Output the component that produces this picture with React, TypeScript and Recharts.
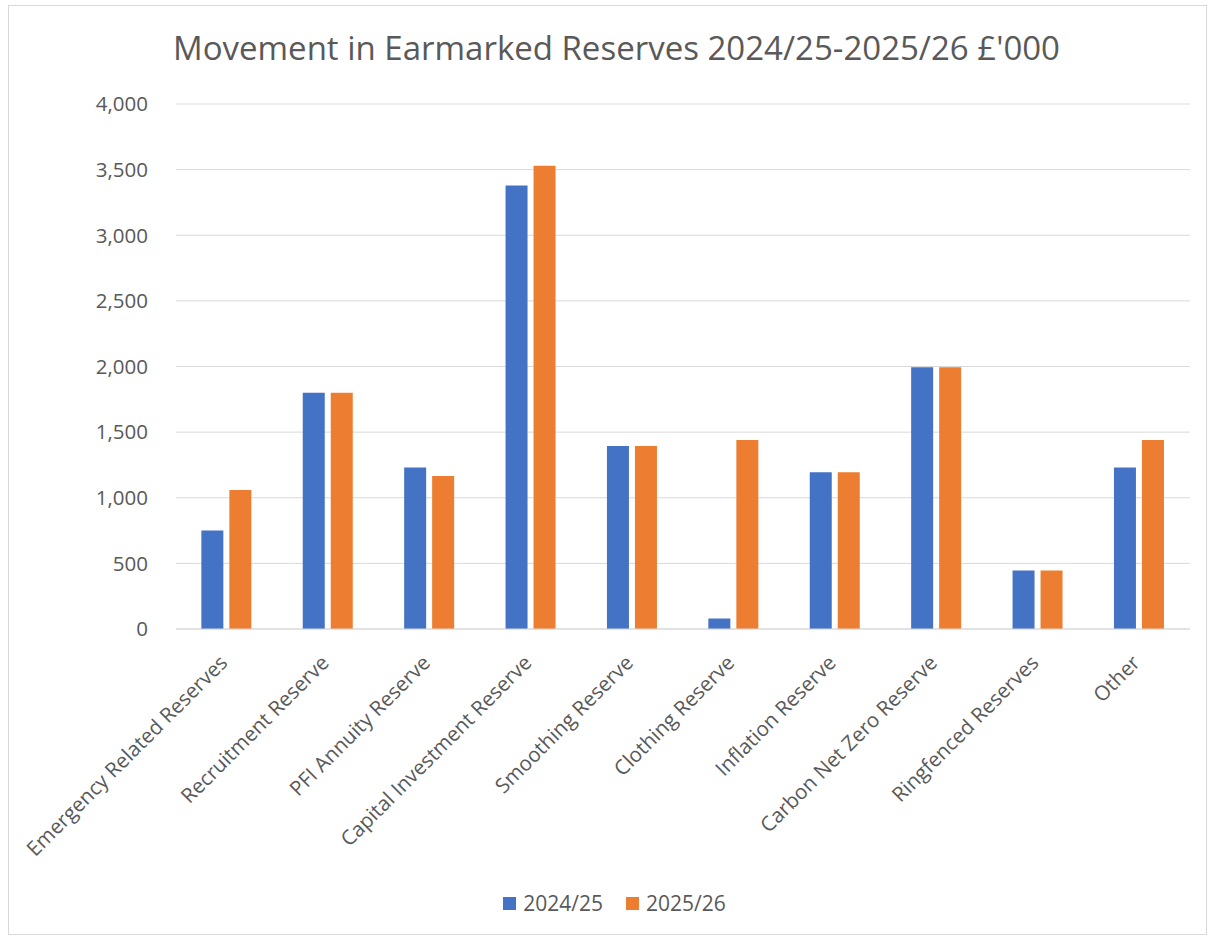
import React from 'react';
import { BarChart, Bar, XAxis, YAxis, CartesianGrid, Legend } from 'recharts';

const categories = [
  'Emergency Related Reserves',
  'Recruitment Reserve',
  'PFI Annuity Reserve',
  'Capital Investment Reserve',
  'Smoothing Reserve',
  'Clothing Reserve',
  'Inflation Reserve',
  'Carbon Net Zero Reserve',
  'Ringfenced Reserves',
  'Other',
];
const values2425 = [750, 1800, 1230, 3380, 1395, 80, 1195, 1995, 445, 1230];
const values2526 = [1060, 1800, 1165, 3530, 1395, 1440, 1195, 1995, 445, 1440];
const yTicks = [0, 500, 1000, 1500, 2000, 2500, 3000, 3500, 4000];
const seriesNames = ['2024/25', '2025/26'];
const title = "Movement in Earmarked Reserves 2024/25-2025/26 £'000";

const data = categories.map((c, i) => ({ name: c, a: values2425[i], b: values2526[i] }));

const FONT = '"Open Sans", "Noto Sans", sans-serif';
const TXT = '#595959';

const XTick = (props: any) => {
  const { x, y, payload } = props;
  const tx = x + 2;
  const ty = y + 27;
  return (
    <text
      x={tx}
      y={ty}
      transform={`rotate(-45, ${tx}, ${ty})`}
      textAnchor="end"
      fontSize={20.5}
      fontFamily={FONT}
      fill={TXT}
    >
      {payload.value}
    </text>
  );
};

const renderLegend = () => (
  <div style={{ display: 'flex', justifyContent: 'center', gap: 23, fontFamily: FONT, fontSize: 21, color: TXT, height: 22, lineHeight: '22px', paddingLeft: 30 }}>
    {seriesNames.map((n, i) => (
      <div key={n} style={{ display: 'flex', alignItems: 'center' }}>
        <span style={{ width: 13, height: 13, background: i === 0 ? '#4472C4' : '#ED7D31', display: 'inline-block', marginRight: 7 }} />
        {n}
      </div>
    ))}
  </div>
);

export default function App() {
  return (
    <div style={{ position: 'absolute', left: 8, top: 5, width: 1199, height: 930, border: '1px solid #d9d9d9', background: '#fff', boxSizing: 'border-box' }}>
      <div style={{ position: 'absolute', left: 9, top: 19, width: '100%', textAlign: 'center', fontFamily: FONT, fontSize: 33, color: TXT, whiteSpace: 'nowrap' }}>
        {title}
      </div>
      <BarChart
        width={1197}
        height={928}
        data={data}
        margin={{ top: 98, right: 16, left: 0, bottom: 0 }}
        barCategoryGap="25%"
        barGap={6}
      >
        <CartesianGrid vertical={false} stroke="#d9d9d9" />
        <XAxis
          dataKey="name"
          interval={0}
          tick={<XTick />}
          tickLine={false}
          axisLine={{ stroke: '#d9d9d9' }}
          height={283}
        />
        <YAxis
          ticks={yTicks}
          domain={[0, 4000]}
          width={167}
          axisLine={false}
          tickLine={false}
          tickMargin={22}
          tickFormatter={(v: number) => v.toLocaleString('en-GB')}
          tick={{ fontSize: 20.5, fontFamily: FONT, fill: TXT }}
        />
        <Legend verticalAlign="bottom" content={renderLegend} wrapperStyle={{ bottom: 20 }} />
        <Bar dataKey="a" name={seriesNames[0]} fill="#4472C4" isAnimationActive={false} />
        <Bar dataKey="b" name={seriesNames[1]} fill="#ED7D31" isAnimationActive={false} />
      </BarChart>
    </div>
  );
}
